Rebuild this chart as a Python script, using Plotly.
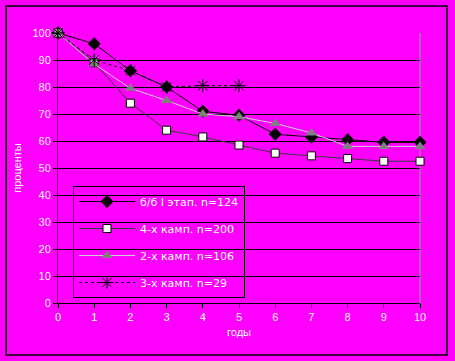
import plotly.graph_objects as go

years = list(range(11))
s1_name = "б/б I этап. n=124"
s1 = [100, 96, 86, 80, 71, 69.5, 62.5, 61.5, 60.5, 59.5, 59.5]
s2_name = "4-х камп. n=200"
s2 = [100, 89, 74, 64, 61.5, 58.5, 55.5, 54.5, 53.5, 52.5, 52.5]
s3_name = "2-х камп. n=106"
s3 = [100, 88.5, 79.5, 75, 70, 69, 66.5, 63, 58, 58, 58]
s4_name = "3-х камп. n=29"
s4 = [100, 90, 86, 80, 80.5, 80.5]
y_ticks = [0, 10, 20, 30, 40, 50, 60, 70, 80, 90, 100]
x_ticks = list(range(11))

BG = "#FF00FF"
FONT = "Liberation Sans"

fig = go.Figure()
fig.add_trace(go.Scatter(x=years, y=s1, name=s1_name, mode="lines+markers",
                         line=dict(color="black", width=1),
                         marker=dict(symbol="diamond", size=10, color="black"),
                         cliponaxis=False, legendgroup="a"))
fig.add_trace(go.Scatter(x=years, y=s2, name=s2_name, mode="lines+markers",
                         line=dict(color="#3a3a3a", width=1),
                         marker=dict(symbol="square", size=8, color="white",
                                     line=dict(color="black", width=1)),
                         cliponaxis=False, legendgroup="b"))
fig.add_trace(go.Scatter(x=years, y=s3, name=s3_name, mode="lines+markers",
                         line=dict(color="#d0d0d0", width=1),
                         marker=dict(symbol="triangle-up", size=10, color="#808080"),
                         cliponaxis=False, legendgroup="c"))
fig.add_trace(go.Scatter(x=years[:len(s4)], y=s4, name=s4_name, mode="lines+markers",
                         line=dict(color="black", width=1, dash="dot"),
                         marker=dict(symbol="asterisk-open", size=11,
                                     line=dict(color="black", width=1)),
                         cliponaxis=False, legendgroup="d"))

W, H = 455, 361
L, R, T, B = 58, 35, 33, 58
pw, ph = W - L - R, H - T - B

def px(x):
    return (x - L) / pw

def py(y):
    return (H - B - y) / ph

fig.add_shape(type="rect", xref="paper", yref="paper",
              x0=px(6), x1=px(447), y0=py(355), y1=py(6),
              line=dict(color="black", width=1.5), layer="below")
fig.add_shape(type="line", xref="paper", yref="paper",
              x0=1, x1=1, y0=0, y1=1,
              line=dict(color="#a0a0a0", width=1), layer="below")

fig.update_layout(
    width=W, height=H,
    margin=dict(l=L, r=R, t=T, b=B),
    paper_bgcolor=BG, plot_bgcolor=BG,
    font=dict(family=FONT, size=11, color="white"),
    showlegend=True,
    legend=dict(x=px(73), y=py(186), xanchor="left", yanchor="top",
                bgcolor="rgba(0,0,0,0)", bordercolor="black", borderwidth=1,
                font=dict(family="DejaVu Sans", size=11, color="white"),
                itemwidth=56,
                traceorder="grouped", tracegroupgap=8),
    xaxis=dict(range=[0, 10], tickvals=x_ticks, ticks="outside", ticklen=4,
               tickcolor="black", showgrid=False, zeroline=False,
               showline=True, linecolor="black", linewidth=1,
               title=dict(text="годы", font=dict(size=11, color="white"), standoff=6),
               tickfont=dict(size=11, color="white")),
    yaxis=dict(range=[0, 100], tickvals=y_ticks, ticks="outside", ticklen=4,
               tickcolor="black", showgrid=True, gridcolor="black", gridwidth=1,
               zeroline=False, showline=True, linecolor="black", linewidth=1,
               title=dict(text="проценты", font=dict(size=11, color="white"), standoff=8),
               tickfont=dict(size=11, color="white")),
)

fig.write_html("out.html")
